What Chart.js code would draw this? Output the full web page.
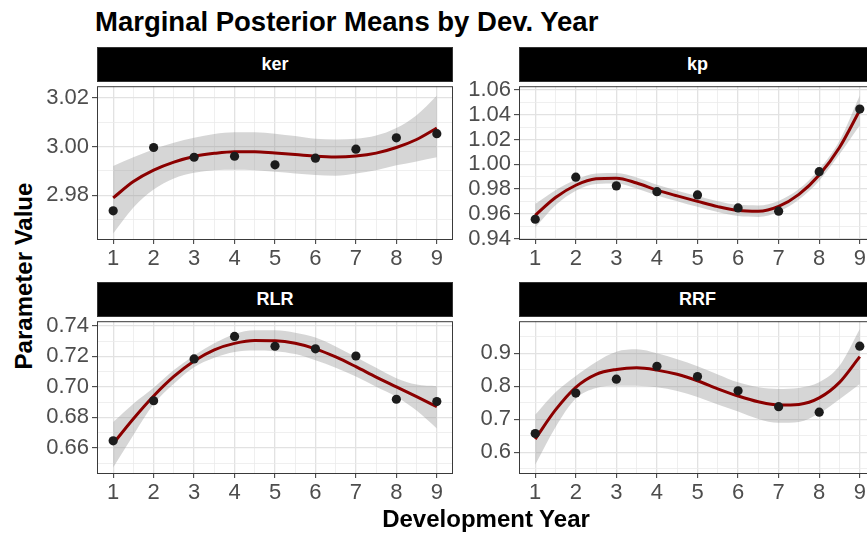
<!DOCTYPE html>
<html>
<head>
<meta charset="utf-8">
<script src="https://cdn.jsdelivr.net/npm/chart.js@4.4.1/dist/chart.umd.min.js"></script>
<style>
    html, body {
        margin: 0;
        padding: 0;
        width: 867px;
        height: 536px;
        overflow: hidden;
        background: #ffffff;
        font-family: "Liberation Sans", Arial, sans-serif;
    }
    .page { position: relative; width: 867px; height: 536px; }
    .title {
        position: absolute; left: 95px; top: 8px;
        font-size: 27.5px; line-height: 27px; font-weight: bold; color: #000;
        white-space: nowrap;
    }
    .strip {
        position: absolute; background: #000; color: #fff;
        font-size: 18px; font-weight: bold; text-align: center;
        box-sizing: border-box; border: 1px solid #333;
    }
    .panel { position: absolute; }
    .xtitle {
        position: absolute; left: 286px; top: 507px; width: 400px;
        text-align: center; font-size: 24px; line-height: 24px; font-weight: bold;
    }
    .ytitle {
        position: absolute; left: -106px; top: 264px; width: 260px;
        text-align: center; font-size: 24px; line-height: 24px; font-weight: bold;
        transform: rotate(-90deg);
    }
</style>
</head>
<body>
<div class="page">
    <div class="title">Marginal Posterior Means by Dev. Year</div>

    <div class="strip" style="left:97px; top:47px; width:356px; height:35px; line-height:33px;">ker</div>
    <div class="strip" style="left:519px; top:47px; width:357px; height:35px; line-height:33px;">kp</div>
    <div class="strip" style="left:97px; top:282px; width:356px; height:35px; line-height:33px;">RLR</div>
    <div class="strip" style="left:519px; top:282px; width:357px; height:35px; line-height:33px;">RRF</div>

    <canvas id="kerChart" class="panel" style="left:40px; top:70px;" width="413" height="204"></canvas>
    <canvas id="kpChart" class="panel" style="left:462px; top:70px;" width="414" height="204"></canvas>
    <canvas id="rlrChart" class="panel" style="left:40px; top:305px;" width="413" height="203"></canvas>
    <canvas id="rrfChart" class="panel" style="left:462px; top:305px;" width="414" height="203"></canvas>

    <div class="xtitle">Development Year</div>
    <div class="ytitle">Parameter Value</div>
</div>

<script>
// Development years (x axis) and the x positions where the fitted curve was read
const devYears = [1, 2, 3, 4, 5, 6, 7, 8, 9];
const smoothX = [1, 1.5, 2, 2.5, 3, 3.5, 4, 4.5, 5, 5.5, 6, 6.5, 7, 7.5, 8, 8.5, 9];

// ker
const kerPoints = [2.9736, 2.9996, 2.9956, 2.9960, 2.9925, 2.9952, 2.9989, 3.0036, 3.0053];
const kerFit = [2.9789, 2.9856, 2.9903, 2.9936, 2.9959, 2.9972, 2.9979, 2.9979, 2.9973, 2.9967, 2.9960, 2.9957, 2.9961, 2.9973, 2.9996, 3.0029, 3.0076];
const kerUpper = [2.9920, 2.9956, 2.9989, 3.0016, 3.0036, 3.0052, 3.0059, 3.0059, 3.0053, 3.0043, 3.0032, 3.0029, 3.0032, 3.0045, 3.0076, 3.0129, 3.0209];
const kerLower = [2.9643, 2.9749, 2.9823, 2.9869, 2.9892, 2.9903, 2.9905, 2.9903, 2.9896, 2.9889, 2.9883, 2.9880, 2.9889, 2.9903, 2.9923, 2.9939, 2.9956];
const kerTicks = [2.98, 3.00, 3.02];

// kp
const kpPoints = [0.9557, 0.9896, 0.9826, 0.9779, 0.9753, 0.9648, 0.9622, 0.9940, 1.0445];
const kpFit = [0.9589, 0.9732, 0.9831, 0.9883, 0.9888, 0.9849, 0.9792, 0.9745, 0.9701, 0.9659, 0.9628, 0.9622, 0.9661, 0.9758, 0.9914, 1.0135, 1.0435];
const kpUpper = [0.9680, 0.9790, 0.9875, 0.9925, 0.9930, 0.9893, 0.9835, 0.9787, 0.9745, 0.9703, 0.9673, 0.9668, 0.9705, 0.9800, 0.9960, 1.0190, 1.0555];
const kpLower = [0.9490, 0.9670, 0.9787, 0.9841, 0.9846, 0.9805, 0.9749, 0.9703, 0.9657, 0.9615, 0.9583, 0.9576, 0.9617, 0.9716, 0.9868, 1.0080, 1.0315];
const kpTicks = [0.94, 0.96, 0.98, 1.00, 1.02, 1.04, 1.06];

// RLR
const rlrPoints = [0.6647, 0.6909, 0.7183, 0.7330, 0.7266, 0.7249, 0.7202, 0.6919, 0.6904];
const rlrFit = [0.6628, 0.6791, 0.6940, 0.7068, 0.7170, 0.7243, 0.7285, 0.7304, 0.7302, 0.7285, 0.7249, 0.7196, 0.7132, 0.7064, 0.7000, 0.6936, 0.6870];
const rlrUpper = [0.6770, 0.6890, 0.6994, 0.7110, 0.7206, 0.7285, 0.7345, 0.7370, 0.7370, 0.7355, 0.7323, 0.7265, 0.7196, 0.7125, 0.7057, 0.7015, 0.7004];
const rlrLower = [0.6472, 0.6685, 0.6887, 0.7020, 0.7128, 0.7190, 0.7228, 0.7238, 0.7234, 0.7215, 0.7174, 0.7125, 0.7068, 0.7000, 0.6935, 0.6845, 0.6728];
const rlrTicks = [0.66, 0.68, 0.70, 0.72, 0.74];

// RRF
const rrfPoints = [0.6569, 0.7794, 0.8216, 0.8608, 0.8294, 0.7863, 0.7382, 0.7216, 0.9216];
const rrfFit = [0.6402, 0.7284, 0.7970, 0.8363, 0.8510, 0.8559, 0.8490, 0.8363, 0.8167, 0.7922, 0.7706, 0.7529, 0.7431, 0.7451, 0.7647, 0.8118, 0.8900];
const rrfUpper = [0.7140, 0.7820, 0.8314, 0.8740, 0.9049, 0.9120, 0.9000, 0.8820, 0.8610, 0.8360, 0.8120, 0.7970, 0.7920, 0.7950, 0.8120, 0.8620, 0.9735];
const rrfLower = [0.5620, 0.6760, 0.7627, 0.7950, 0.8020, 0.8020, 0.7970, 0.7860, 0.7676, 0.7450, 0.7235, 0.7010, 0.6892, 0.6920, 0.7186, 0.7610, 0.8069];
const rrfTicks = [0.6, 0.7, 0.8, 0.9];

const FONT = '"Liberation Sans", Arial, sans-serif';

// Draw the full panel border on top of everything (theme_bw style)
const panelBorder = {
    id: 'panelBorder',
    afterDatasetsDraw(chart) {
        const { ctx, chartArea } = chart;
        ctx.save();
        ctx.strokeStyle = '#3a3a3a';
        ctx.lineWidth = 1;
        ctx.strokeRect(chartArea.left + 0.5, chartArea.top + 0.5,
            chartArea.right - chartArea.left - 1, chartArea.bottom - chartArea.top);
        ctx.restore();
    }
};

// Major ticks plus minor grid lines half way between them
function withMinorTicks(majors) {
    return function(axis) {
        const step = majors[1] - majors[0];
        const ticks = [];
        majors.forEach(v => {
            ticks.push({ value: v, isMajor: true });
            ticks.push({ value: v + step / 2, isMajor: false });
        });
        ticks.push({ value: majors[0] - step / 2, isMajor: false });
        axis.ticks = ticks
            .filter(t => t.value >= axis.min - 1e-9 && t.value <= axis.max + 1e-9)
            .sort((a, b) => a.value - b.value);
    };
}

function toXY(xs, ys) {
    return xs.map((x, i) => ({ x: x, y: ys[i] }));
}

function isMajor(ctx) {
    return ctx.tick && ctx.tick.isMajor;
}

function axisGrid() {
    return {
        color: ctx => isMajor(ctx) ? '#e2e2e2' : '#ebebeb',
        lineWidth: ctx => isMajor(ctx) ? 1.3 : 0.8,
        drawTicks: true,
        tickLength: 5,
        tickColor: ctx => isMajor(ctx) ? '#333333' : 'rgba(0,0,0,0)',
        tickWidth: 1
    };
}

function drawPanel(canvasId, points, fit, upper, lower, yTicks, yMin, yMax, decimals) {
    const canvas = document.getElementById(canvasId);
    new Chart(canvas, {
        type: 'scatter',
        data: {
            datasets: [
                {
                    label: 'points',
                    data: toXY(devYears, points),
                    backgroundColor: '#1c1c1c',
                    borderWidth: 0,
                    pointRadius: 4.6,
                    order: 0
                },
                {
                    label: 'fit',
                    type: 'line',
                    data: toXY(smoothX, fit),
                    borderColor: '#8b0000',
                    borderWidth: 3,
                    pointRadius: 0,
                    cubicInterpolationMode: 'monotone',
                    fill: false,
                    order: 1
                },
                {
                    label: 'upper',
                    type: 'line',
                    data: toXY(smoothX, upper),
                    borderWidth: 0,
                    borderColor: 'rgba(0,0,0,0)',
                    pointRadius: 0,
                    cubicInterpolationMode: 'monotone',
                    backgroundColor: 'rgba(153,153,153,0.4)',
                    fill: '+1',
                    order: 2
                },
                {
                    label: 'lower',
                    type: 'line',
                    data: toXY(smoothX, lower),
                    borderWidth: 0,
                    borderColor: 'rgba(0,0,0,0)',
                    pointRadius: 0,
                    cubicInterpolationMode: 'monotone',
                    fill: false,
                    order: 3
                }
            ]
        },
        options: {
            responsive: false,
            animation: false,
            events: [],
            layout: { padding: { top: 12, left: 0, right: 0, bottom: 0 }, autoPadding: false },
            plugins: {
                legend: { display: false },
                tooltip: { enabled: false }
            },
            scales: {
                x: {
                    type: 'linear',
                    min: 0.6,
                    max: 9.4,
                    afterBuildTicks: withMinorTicks(devYears),
                    afterFit: axis => { axis.height = 35; },
                    grid: axisGrid(),
                    border: { display: false },
                    ticks: {
                        autoSkip: false,
                        maxRotation: 0,
                        padding: 2,
                        color: '#4d4d4d',
                        font: { family: FONT, size: 22 },
                        callback: (value, index, ticks) => ticks[index].isMajor ? String(value) : ''
                    }
                },
                y: {
                    type: 'linear',
                    min: yMin,
                    max: yMax,
                    afterBuildTicks: withMinorTicks(yTicks),
                    afterFit: axis => { axis.width = 57; },
                    grid: axisGrid(),
                    border: { display: false },
                    ticks: {
                        autoSkip: false,
                        padding: 3,
                        color: '#4d4d4d',
                        font: { family: FONT, size: 22 },
                        callback: (value, index, ticks) => ticks[index].isMajor ? value.toFixed(decimals) : ''
                    }
                }
            }
        },
        plugins: [panelBorder]
    });
}

document.addEventListener('DOMContentLoaded', () => {
    drawPanel('kerChart', kerPoints, kerFit, kerUpper, kerLower, kerTicks, 2.962, 3.0248, 2);
    drawPanel('kpChart', kpPoints, kpFit, kpUpper, kpLower, kpTicks, 0.9398, 1.0629, 2);
    drawPanel('rlrChart', rlrPoints, rlrFit, rlrUpper, rlrLower, rlrTicks, 0.6436, 0.743, 2);
    drawPanel('rrfChart', rrfPoints, rrfFit, rrfUpper, rrfLower, rrfTicks, 0.5372, 0.9973, 1);
});
</script>
</body>
</html>
